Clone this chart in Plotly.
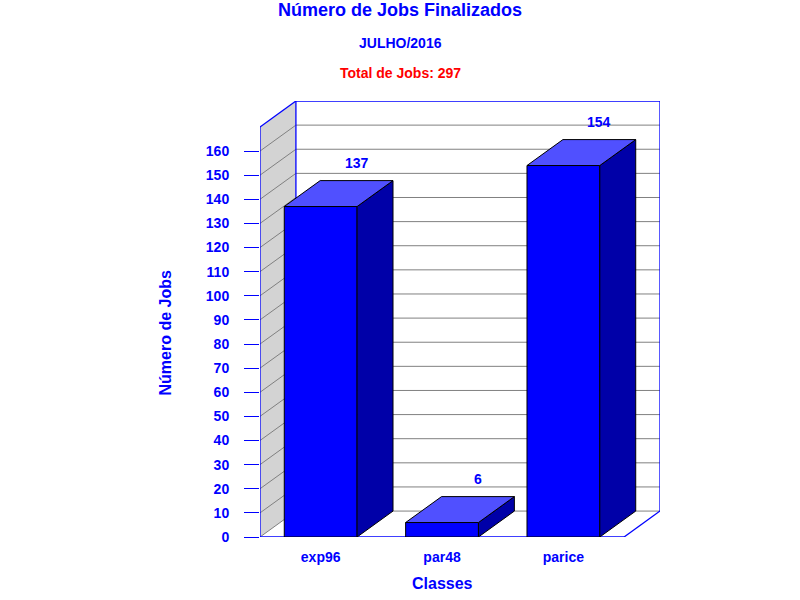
import plotly.graph_objects as go

# ---- data ----
categories = ["exp96", "par48", "parice"]
jobs = [137, 6, 154]
y_tick_values = list(range(0, 161, 10))
title_text = "Número de Jobs Finalizados"
subtitle_text = "JULHO/2016"
total_text = "Total de Jobs: 297"
y_title = "Número de Jobs"
x_title = "Classes"

# ---- style constants ----
BLUE = "#0000ff"
SIDE = "#0000a8"
TOP = "#5050ff"
GRID = "#808080"
WALL = "#d3d3d3"
FONT = "Liberation Sans"
DX = 0.296          # depth offset in x data units
DY = 10.75          # depth offset in y data units
WALL_TOP = 170
BAR_W = 0.6
X0, X1 = -0.5, len(categories) - 0.5

xs = list(range(len(categories)))

fig = go.Figure()

# front faces of bars
fig.add_trace(go.Bar(
    x=xs, y=jobs, width=BAR_W,
    marker=dict(color=BLUE, line=dict(color="black", width=1)),
    hoverinfo="skip", showlegend=False,
))

# side and top faces
for c, v in zip(xs, jobs):
    l, r = c - BAR_W / 2, c + BAR_W / 2
    fig.add_trace(go.Scatter(
        x=[r, r + DX, r + DX, r, r], y=[0, DY, v + DY, v, 0],
        fill="toself", fillcolor=SIDE, mode="lines",
        line=dict(color="black", width=1), hoverinfo="skip", showlegend=False))
    fig.add_trace(go.Scatter(
        x=[l, r, r + DX, l + DX, l], y=[v, v, v + DY, v + DY, v],
        fill="toself", fillcolor=TOP, mode="lines",
        line=dict(color="black", width=1), hoverinfo="skip", showlegend=False))

shapes = []
# side wall
shapes.append(dict(type="path", xref="x", yref="y", layer="below",
                   path=f"M {X0},0 L {X0+DX},{DY} L {X0+DX},{WALL_TOP+DY} L {X0},{WALL_TOP} Z",
                   fillcolor=WALL, line=dict(width=0)))
# grid lines on back wall and side wall
for v in list(range(0, WALL_TOP, 10)):
    shapes.append(dict(type="line", xref="x", yref="y", layer="below",
                       x0=X0 + DX, x1=X1 + DX, y0=v + DY, y1=v + DY,
                       line=dict(color=GRID, width=1)))
    shapes.append(dict(type="line", xref="x", yref="y", layer="below",
                       x0=X0, x1=X0 + DX, y0=v, y1=v + DY,
                       line=dict(color=GRID, width=1)))
# blue outlines
outline = [
    (X0, 0, X0, WALL_TOP),
    (X0, WALL_TOP, X0 + DX, WALL_TOP + DY),
    (X0 + DX, DY, X0 + DX, WALL_TOP + DY),
    (X0 + DX, WALL_TOP + DY, X1 + DX, WALL_TOP + DY),
    (X1 + DX, WALL_TOP + DY, X1 + DX, DY),
    (X1 + DX, DY, X1, 0),
    (X0, 0, X1, 0),
]
for a, b, c2, d in outline:
    shapes.append(dict(type="line", xref="x", yref="y", layer="below",
                       x0=a, y0=b, x1=c2, y1=d, line=dict(color=BLUE, width=1.3)))

annotations = []
for c, v in zip(xs, jobs):
    annotations.append(dict(x=c + DX, y=v + DY, xref="x", yref="y", text=str(v),
                            showarrow=False, yanchor="middle", yshift=18,
                            font=dict(family=FONT, size=14, color=BLUE, weight="bold")))

PH = 436.0
def py(p):
    return (537 - p) / PH

annotations += [
    dict(x=0.35, y=py(10), xref="paper", yref="paper", text=title_text, showarrow=False,
         yanchor="middle", font=dict(family=FONT, size=18, color=BLUE, weight="bold")),
    dict(x=0.35, y=py(43), xref="paper", yref="paper", text=subtitle_text, showarrow=False,
         yanchor="middle", font=dict(family=FONT, size=14, color=BLUE, weight="bold")),
    dict(x=0.35, y=py(73), xref="paper", yref="paper", text=total_text, showarrow=False,
         yanchor="middle", font=dict(family=FONT, size=14, color="#ff0000", weight="bold")),
    dict(x=(165 - 260) / 400, y=py(333.5), xref="paper", yref="paper", text=y_title,
         showarrow=False, textangle=-90, xanchor="center", yanchor="middle",
         font=dict(family=FONT, size=16, color=BLUE, weight="bold")),
    dict(x=1, y=py(583), xref="x", yref="paper", text=x_title, showarrow=False,
         yanchor="middle", font=dict(family=FONT, size=16, color=BLUE, weight="bold")),
]

fig.update_layout(
    width=800, height=600,
    margin=dict(l=260, r=140, t=101, b=63),
    paper_bgcolor="white", plot_bgcolor="rgba(0,0,0,0)",
    shapes=shapes, annotations=annotations, showlegend=False,
    xaxis=dict(range=[X0, X1 + DX], showgrid=False, zeroline=False, showline=False,
               tickvals=xs, ticktext=categories, ticks="", ticklabelstandoff=10,
               tickfont=dict(family=FONT, size=14, color=BLUE, weight="bold"),
               fixedrange=True),
    yaxis=dict(range=[0, WALL_TOP + DY], showgrid=False, zeroline=False, showline=False,
               tickvals=y_tick_values, ticks="outside", ticklen=15, tickcolor=BLUE,
               tickwidth=1, ticklabelstandoff=12,
               tickfont=dict(family=FONT, size=14, color=BLUE, weight="bold"),
               fixedrange=True),
)

# remove the default page margin so the figure sits at the window's top-left corner
fig.write_html("out.html", config={"displayModeBar": False},
               post_script="document.body.style.margin='0';")
